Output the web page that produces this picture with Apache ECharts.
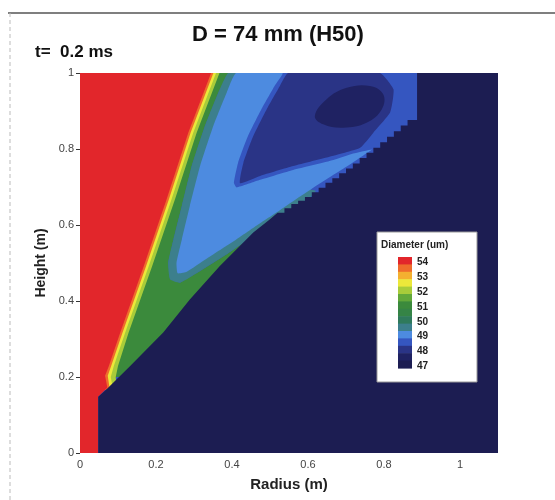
<!DOCTYPE html>
<html><head><meta charset="utf-8">
<script src="https://cdn.jsdelivr.net/npm/echarts@6/dist/echarts.min.js"></script>
<style>html,body{margin:0;padding:0;background:#fff}#c{width:555px;height:500px}</style>
</head><body><div id="c"></div>
<script>
// ---- contour levels (um) and colours ----
const levels = [47, 47.5, 48, 48.5, 49, 49.5, 50, 50.5, 51, 51.5, 52, 52.5, 53, 53.5, 54];
const levelColors = ['#1c1d52', '#1f2262', '#2a3486', '#3556c0', '#4d8be0', '#3c7f8c', '#2f7a5c', '#358446', '#3b8a3c', '#62a83a', '#a8cc3a', '#ece83a', '#f4b030', '#ef6c2c', '#e2262b'];
const legendTicks = [54, 53, 52, 51, 50, 49, 48, 47];

// ---- contour region outlines: [radius (m), height (m)] ----
const fieldRegion = [[0, 0], [1.1, 0], [1.1, 1], [0, 1]];
const greenRegion = [[0, 1], [0.390, 1.0], [0.364, 0.948], [0.329, 0.861], [0.294, 0.755], [0.268, 0.650], [0.246, 0.562], [0.232, 0.501], [0.237, 0.457], [0.263, 0.448], [0.316, 0.479], [0.386, 0.523], [0.456, 0.571], [0.526, 0.619], [0.596, 0.663], [0.30, 0.20], [0, 0.20]];
const tealRegion = [[0.390, 1.0], [0.364, 0.948], [0.329, 0.861], [0.294, 0.755], [0.268, 0.650], [0.246, 0.562], [0.232, 0.501], [0.237, 0.457], [0.263, 0.448], [0.316, 0.479], [0.386, 0.523], [0.456, 0.571], [0.526, 0.619], [0.596, 0.663], [0.62, 0.69], [0.55, 0.70], [0.38, 0.68], [0.36, 0.80], [0.44, 0.95], [0.44, 1.0]];
const lightBlueRegion = [[0.411, 1.0], [0.386, 0.948], [0.351, 0.861], [0.316, 0.755], [0.289, 0.650], [0.268, 0.562], [0.254, 0.501], [0.257, 0.473], [0.281, 0.477], [0.333, 0.511], [0.395, 0.551], [0.465, 0.599], [0.526, 0.639], [0.579, 0.675], [0.632, 0.710], [0.702, 0.754], [0.754, 0.789], [0.768, 0.799], [0.719, 0.788], [0.667, 0.771], [0.561, 0.745], [0.474, 0.719], [0.412, 0.699], [0.405, 0.711], [0.416, 0.764], [0.442, 0.834], [0.477, 0.904], [0.512, 0.966], [0.533, 1.0]];
const innerRegion = [[0.548, 1.0], [0.789, 1.0], [0.825, 0.957], [0.816, 0.896], [0.772, 0.843], [0.737, 0.803], [0.667, 0.782], [0.561, 0.755], [0.474, 0.729], [0.421, 0.710], [0.430, 0.764], [0.456, 0.834], [0.491, 0.904], [0.526, 0.966]];
const coreRegion = [[0.618, 0.887], [0.649, 0.931], [0.702, 0.961], [0.763, 0.966], [0.798, 0.944], [0.794, 0.904], [0.754, 0.869], [0.693, 0.856], [0.640, 0.865]];
const yellowGreenRegion = [[0, 0.15], [0.096, 0.176], [0.094, 0.200], [0.100, 0.229], [0.128, 0.317], [0.190, 0.492], [0.250, 0.668], [0.307, 0.843], [0.367, 1.0], [0, 1]];
const yellowRegion = [[0, 0.15], [0.086, 0.172], [0.081, 0.200], [0.089, 0.229], [0.119, 0.317], [0.181, 0.492], [0.241, 0.668], [0.298, 0.843], [0.358, 1.0], [0, 1]];
const orangeRegion = [[0, 0.15], [0.078, 0.170], [0.073, 0.203], [0.082, 0.229], [0.112, 0.317], [0.174, 0.492], [0.234, 0.668], [0.291, 0.843], [0.351, 1.0], [0, 1]];
const redRegion = [[0, 0], [0.048, 0], [0.048, 0.148], [0.072, 0.172], [0.066, 0.203], [0.076, 0.229], [0.106, 0.317], [0.168, 0.492], [0.228, 0.668], [0.285, 0.843], [0.345, 1.0], [0, 1]];
// lower-right edge of the spray (47 um ambient beyond it)
const edgeSmooth = [[0.048, 0], [0.048, 0.148], [0.072, 0.170], [0.132, 0.229], [0.219, 0.317], [0.289, 0.404], [0.368, 0.492], [0.456, 0.580], [0.500, 0.615]];
const edgeStairs = [[0.520, 0.632], [0.538, 0.644], [0.556, 0.655], [0.574, 0.664], [0.592, 0.674], [0.610, 0.686], [0.628, 0.698], [0.646, 0.711], [0.664, 0.723], [0.682, 0.736], [0.700, 0.749], [0.718, 0.762], [0.736, 0.776], [0.754, 0.790], [0.772, 0.803], [0.790, 0.818], [0.808, 0.832], [0.826, 0.847], [0.844, 0.862], [0.862, 0.876], [0.887, 0.890]];
const edgeTop = [[0.887, 1], [1.1, 1], [1.1, 0]];

function stairs(pts) {
  const out = [pts[0]];
  for (let i = 1; i < pts.length; i++) { out.push([pts[i][0], pts[i - 1][1]]); out.push(pts[i]); }
  return out;
}
const ambientRegion = edgeSmooth.concat(stairs(edgeStairs), edgeTop);

const regions = [
  { level: 48.5, pts: fieldRegion },
  { level: 51, pts: greenRegion },
  { level: 49.5, pts: tealRegion, smooth: 0.15 },
  { level: 49, pts: lightBlueRegion, smooth: 0.15 },
  { level: 48, pts: innerRegion, smooth: 0.15 },
  { level: 47.5, pts: coreRegion, smooth: 0.4 },
  { level: 52, pts: yellowGreenRegion },
  { level: 52.5, pts: yellowRegion },
  { level: 53.5, pts: orangeRegion },
  { level: 54, pts: redRegion },
  { level: 47, pts: ambientRegion }
];
function colorOf(v) { return levelColors[levels.indexOf(v)]; }

const FONT = 'Liberation Sans, Arial, sans-serif';
const chart = echarts.init(document.getElementById('c'), null, { renderer: 'canvas' });

// legend (colour bar)
const legendChildren = [
  { type: 'rect', shape: { x: 377, y: 232, width: 100, height: 150 }, style: { fill: '#fff', stroke: '#999', lineWidth: 1 } },
  { type: 'text', x: 381, y: 245, style: { text: 'Diameter (um)', font: 'bold 10px ' + FONT, fill: '#222', textVerticalAlign: 'middle' } }
];
const bandH = 7.4;
levels.slice().reverse().forEach((lv, i) => {
  legendChildren.push({ type: 'rect', shape: { x: 398, y: 257 + i * bandH, width: 14, height: bandH + 0.6 }, style: { fill: colorOf(lv) } });
});
legendTicks.forEach(t => {
  const bi = levels.length - 1 - levels.indexOf(t);
  legendChildren.push({ type: 'text', x: 417, y: 257 + (bi + 0.5) * bandH + 2, style: { text: String(t), font: 'bold 10px ' + FONT, fill: '#222', textVerticalAlign: 'middle' } });
});

chart.setOption({
  backgroundColor: '#fff',
  animation: false,
  grid: { left: 80, right: 57, top: 73, bottom: 47 },
  xAxis: {
    type: 'value', min: 0, max: 1.1, interval: 0.2,
    name: 'Radius (m)', nameLocation: 'middle', nameGap: 24,
    nameTextStyle: { fontFamily: FONT, fontWeight: 'bold', fontSize: 15, color: '#222' },
    axisLine: { show: false }, axisTick: { show: false }, splitLine: { show: false },
    axisLabel: { showMaxLabel: false, fontFamily: FONT, fontSize: 11, color: '#444', margin: 6 }
  },
  yAxis: {
    type: 'value', min: 0, max: 1, interval: 0.2,
    name: 'Height (m)', nameLocation: 'middle', nameGap: 27,
    nameTextStyle: { fontFamily: FONT, fontWeight: 'bold', fontSize: 14, color: '#222' },
    axisLine: { show: false }, axisTick: { show: true, length: 4, lineStyle: { color: '#333' } }, splitLine: { show: false },
    axisLabel: { fontFamily: FONT, fontSize: 11, color: '#444', margin: 6 }
  },
  series: [{
    type: 'custom',
    clip: true,
    silent: true,
    z: 2,
    dimensions: ['radius', 'height', 'level'],
    data: regions.map(r => [r.pts[0][0], r.pts[0][1], r.level]),
    renderItem: function (params, api) {
      const reg = regions[params.dataIndex];
      const points = reg.pts.map(p => api.coord(p));
      return { type: 'polygon', shape: { points: points, smooth: reg.smooth || 0 }, style: { fill: colorOf(api.value(2)) } };
    }
  }],
  graphic: [
    { type: 'line', shape: { x1: 8, y1: 13, x2: 555, y2: 13 }, style: { stroke: '#555', lineWidth: 1.5 } },
    { type: 'line', shape: { x1: 10, y1: 13, x2: 10, y2: 500 }, style: { stroke: '#bbb', lineWidth: 1, lineDash: [4, 3] } },
    { type: 'text', x: 278, y: 35, style: { text: 'D = 74 mm (H50)', font: 'bold 22px ' + FONT, fill: '#111', textAlign: 'center', textVerticalAlign: 'middle' } },
    { type: 'text', x: 35, y: 52, style: { text: 't=  0.2 ms', font: 'bold 17px ' + FONT, fill: '#111', textVerticalAlign: 'middle' } },
    { type: 'group', z: 100, children: legendChildren.map(c => Object.assign({ z: 100 }, c)) }
  ]
});
</script>
</body></html>
